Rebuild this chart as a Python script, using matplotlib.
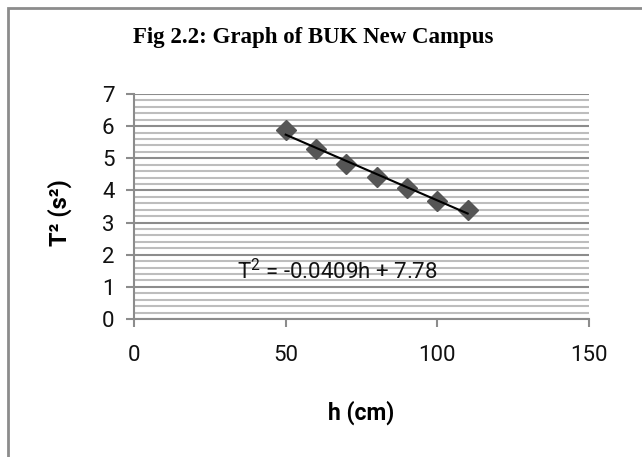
import matplotlib
matplotlib.use("Agg")
import matplotlib.pyplot as plt
import numpy as np
from matplotlib.patches import Rectangle

h_values = [50, 60, 70, 80, 90, 100, 110]
t2_values = [5.88, 5.29, 4.81, 4.43, 4.07, 3.67, 3.39]
slope = -0.0409
intercept = 7.78
x_ticks = [0, 50, 100, 150]
y_ticks = [0, 1, 2, 3, 4, 5, 6, 7]

plt.rcParams["mathtext.fontset"] = "custom"
plt.rcParams["mathtext.rm"] = "Roboto"
plt.rcParams["mathtext.it"] = "Roboto"
plt.rcParams["mathtext.bf"] = "Roboto:bold"

fig = plt.figure(figsize=(6.42, 4.57), dpi=100)
fig.patch.set_facecolor("white")
fig.patches.append(Rectangle((8 / 642, -0.1), 1.2, 1 - 8 / 457 + 0.1, transform=fig.transFigure,
                             fill=False, edgecolor="#8c8c8c", linewidth=2, zorder=0))

ax = fig.add_axes([134 / 642, 1 - 319 / 457, (589 - 134) / 642, (319 - 94) / 457])
ax.set_xlim(0, 150)
ax.set_ylim(0, 7)

# grid
ax.set_yticks(y_ticks)
ax.set_yticks(np.arange(0, 7.01, 0.2), minor=True)
ax.yaxis.grid(True, which="major", color="#8c8c8c", linewidth=1.5)
ax.yaxis.grid(True, which="minor", color="#bdbdbd", linewidth=1.5)
ax.set_axisbelow(True)
ax.set_xticks(x_ticks)

for s in ["top", "right"]:
    ax.spines[s].set_visible(False)
for s in ["left", "bottom"]:
    ax.spines[s].set_color("#8c8c8c")
    ax.spines[s].set_linewidth(1.5)

ax.tick_params(axis="both", which="major", direction="out", length=6, width=1.5, color="#8c8c8c",
               labelsize=16, pad=8)
ax.tick_params(axis="x", pad=13)
ax.tick_params(axis="y", which="minor", length=0)
for lab in ax.get_xticklabels() + ax.get_yticklabels():
    lab.set_fontfamily("Roboto")
    lab.set_color("#111111")

ax.plot(h_values, t2_values, linestyle="none", marker="D", markersize=10,
        color="#555555", zorder=3, clip_on=False)
hx = np.array([h_values[0], h_values[-1]])
ax.plot(hx, slope * hx + intercept, color="black", linewidth=1.5, zorder=4)

ax.text(34, 1.46, "T$^{2}$ = -0.0409h + 7.78", fontsize=16, family="Roboto",
        va="center", ha="left", color="#111111")

fig.text(313 / 642, 1 - 37 / 457, "Fig 2.2: Graph of BUK New Campus", ha="center", va="center",
         fontsize=16.5, fontweight="bold", family="Liberation Serif")
fig.text(361 / 642, 1 - 413 / 457, "h (cm)", ha="center", va="center", fontsize=16.5,
         fontweight="bold", family="Roboto")
fig.text(60 / 642, 1 - 213 / 457, "T² (s²)", ha="center", va="center", fontsize=17,
         fontweight="bold", family="Roboto", rotation=90)

fig.savefig("out.png", dpi=100)
